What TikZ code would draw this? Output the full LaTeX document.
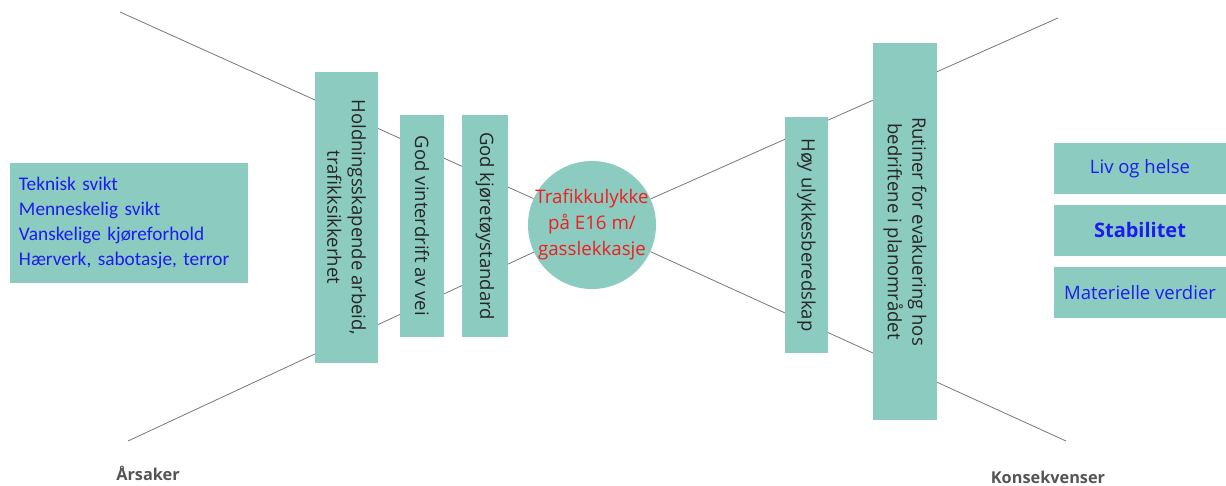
\documentclass[tikz,border=0pt]{standalone}
\usepackage{fontspec}
\setmainfont{Carlito}
\newfontfamily\opensans{Open Sans}
\usepackage{tikz}
\usetikzlibrary{positioning}

\definecolor{barrier}{RGB}{140,203,191}
\definecolor{causeblue}{RGB}{28,28,238}
\definecolor{eventred}{RGB}{240,30,30}
\definecolor{linegray}{RGB}{120,120,120}
\definecolor{labelgray}{RGB}{85,85,85}

\tikzset{
  barrier box/.style={fill=barrier, draw=none, inner sep=3pt},
  upright box/.style={barrier box, rotate=-90, align=center, text=black!85,
    font=\opensans\fontsize{18.5}{24.5}\selectfont},
  bow line/.style={draw=linegray, line width=0.8pt},
  side label/.style={text=labelgray, inner sep=0pt,
    font=\opensans\fontsize{16.3}{19}\selectfont\bfseries},
}

\begin{document}
\begin{tikzpicture}[x=1pt, y=-1pt]

\useasboundingbox (0,0) rectangle (1226,486);

% top event
\node [circle, fill=barrier, minimum size=128, inner sep=0pt] (event) at (592,225) {};
\node [align=center, text=eventred, font=\opensans\fontsize{18.7}{26}\selectfont]
  (event-text) at (event) {Trafikkulykke\\på E16 m/\\gasslekkasje};

\coordinate (cause-top) at (120,12);
\coordinate (cause-bottom) at (128,441);
\coordinate (cons-top) at (1058,18);
\coordinate (cons-bottom) at (1066,441);

\foreach \c in {cause-top,cause-bottom,cons-top,cons-bottom}
  \draw [bow line] (\c) -- (event);

% causes
\node [barrier box, minimum width=238, minimum height=120, text width=220,
  align=left, text=causeblue, font=\fontsize{19.3}{25}\selectfont]
  (causes) at (129,223)
  {Teknisk svikt\\Menneskelig svikt\\Vanskelige kjøreforhold\\Hærverk, sabotasje, terror};

% barriers before
\node [upright box, minimum width=291, minimum height=63] (barrier-1) at (346.5,217.5)
  {Holdningsskapende arbeid,\\trafikksikkerhet};
\node [upright box, minimum width=222, minimum height=44] (barrier-2) at (422,226)
  {God vinterdrift av vei};
\node [upright box, minimum width=222, minimum height=46] (barrier-3) at (485,226)
  {God kjøretøystandard};

% barriers after
\node [upright box, minimum width=236, minimum height=43] (barrier-4) at (806.5,235)
  {Høy ulykkesberedskap};
\node [upright box, minimum width=377, minimum height=64] (barrier-5) at (905,231.5)
  {Rutiner for evakuering hos\\bedriftene i planområdet};

% consequences
\foreach \l/\f [count=\i] in {Liv og helse/\fontsize{18.5}{22}\selectfont,
    Stabilitet/\fontsize{20}{24}\selectfont\bfseries,
    Materielle verdier/\fontsize{18.5}{22}\selectfont}
  \node [barrier box, minimum width=172, minimum height=51, text=causeblue,
    font=\opensans\f] (cons-\i) at (1140,168.5+\i*62-62) {\l};

\node [side label] (causes-label) at (148,473) {Årsaker};
\node [side label] (cons-label) at (1048,477) {Konsekvenser};

\end{tikzpicture}
\end{document}
